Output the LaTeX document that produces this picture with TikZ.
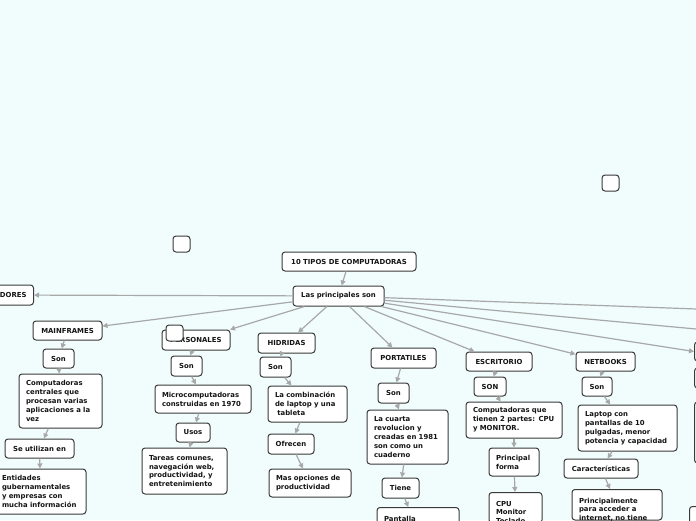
\documentclass[tikz,border=0pt]{standalone}
\usepackage{fontspec}
\setsansfont{DejaVu Sans}
\usetikzlibrary{arrows.meta}
\definecolor{bg}{RGB}{240,253,252}
\definecolor{ln}{RGB}{168,168,168}
\definecolor{bd}{RGB}{58,58,58}
\tikzset{
 bx/.style={draw=bd, line width=1pt, rounded corners=3pt, fill=white,
   font=\sffamily\bfseries\fontsize{6.9}{8.9}\selectfont,
   inner xsep=7pt, inner ysep=3pt, text=black!92},
 sb/.style={bx, align=center},
 mb/.style={bx, align=left},
 sq/.style={draw=bd, line width=1pt, rounded corners=3pt, fill=white,
   minimum width=17pt, minimum height=16pt, inner sep=0pt},
 conn/.style={draw=ln, line width=1.2pt, -{Triangle[length=5pt,width=5pt]}},
}
\newcommand{\topstrut}{\rule{0pt}{10.5pt}}
\begin{document}
\begin{tikzpicture}[x=1pt,y=-1pt]
\useasboundingbox (0,0) rectangle (696,520);
\fill[bg] (0,0) rectangle (696,520);
\clip (0,0) rectangle (696,520);

% top
\node[sb, minimum width=134pt, minimum height=19pt] (root) at (349,261.5) {10 TIPOS DE COMPUTADORAS};
\node[sb, minimum width=91pt, minimum height=20pt] (lps) at (338.5,296) {Las principales son};

% left cut node
\node[sb, anchor=east, minimum height=20pt] (dor) at (34,295) {SERVIDORES};

% MAINFRAMES
\node[sb, minimum width=69pt, minimum height=19pt] (mf) at (67.5,330.5) {MAINFRAMES};
\node[sb, minimum width=31pt, minimum height=19pt] (mson) at (58.5,358.5) {Son};
\node[mb, text width=69pt, minimum height=54pt] (mdesc) at (60.5,401) {Computadoras\\centrales que\\procesan varias\\aplicaciones a la\\vez};
\node[sb, minimum width=69pt, minimum height=19pt] (muse) at (39.5,448.5) {Se utilizan en};
\node[mb, text width=77pt, minimum height=45pt] (ment) at (40.5,491.5) {Entidades\\gubernamentales\\y empresas con\\mucha información};

% PERSONALES
\node[sb, minimum width=68pt, minimum height=20pt] (pers) at (196,340) {PERSONALES};
\node[sb, minimum width=31pt, minimum height=20pt] (pson) at (186.5,366) {Son};
\node[mb, text width=82pt, minimum height=28pt] (pdesc) at (203,399) {Microcomputadoras\\construidas en 1970};
\node[sb, minimum width=34pt, minimum height=19pt] (puse) at (193,432.5) {Usos};
\node[mb, text width=71pt, minimum height=46pt] (ptar) at (184.5,471) {Tareas comunes,\\navegación web,\\productividad, y\\entretenimiento};

% HIDRIDAS
\node[sb, minimum width=57pt, minimum height=20pt] (hid) at (286.5,343) {HIDRIDAS};
\node[sb, minimum width=31pt, minimum height=20pt] (hson) at (275.5,367) {Son};
\node[mb, text width=65pt, minimum height=36pt] (hdesc) at (307.5,404) {La combinación\\de laptop y una\\\ tableta};
\node[sb, minimum width=46pt, minimum height=20pt] (hofr) at (291,444) {Ofrecen};
\node[mb, text width=68pt, minimum height=28pt] (hmas) at (310,483) {Mas opciones de\\productividad};

% PORTATILES
\node[sb, minimum width=65pt, minimum height=20pt] (port) at (403.5,358) {PORTATILES};
\node[sb, minimum width=31pt, minimum height=20pt] (poson) at (393.5,393) {Son};
\node[mb, text width=67pt, minimum height=54pt] (podesc) at (407.5,437) {La cuarta\\revolucion y\\creadas en 1981\\son como un\\cuaderno};
\node[sb, minimum width=37pt, minimum height=20pt] (potie) at (400.5,488) {Tiene};
\node[mb, text width=68pt, text depth=30pt, anchor=north] (popan) at (418,507) {\topstrut Pantalla};

% ESCRITORIO
\node[sb, minimum width=66pt, minimum height=19pt] (esc) at (499,361.5) {ESCRITORIO};
\node[sb, minimum width=32pt, minimum height=19pt] (eson) at (490,386.5) {SON};
\node[mb, text width=82pt, minimum height=36pt] (edesc) at (514,420) {Computadoras que\\tienen 2 partes: CPU\\y MONITOR.};
\node[mb, text width=36pt, minimum height=28pt] (efor) at (514,462) {Principal\\forma};
\node[mb, text width=39pt, text depth=14pt, anchor=north] (ecpu) at (515.5,492) {\topstrut CPU\\Monitor\\Teclado};

% NETBOOKS
\node[sb, minimum width=59pt, minimum height=19pt] (net) at (605.5,361.5) {NETBOOKS};
\node[sb, minimum width=30pt, minimum height=19pt] (nson) at (597,386.5) {Son};
\node[mb, text width=85pt, minimum height=46pt] (ndesc) at (627.5,428) {Laptop con\\pantallas de 10\\pulgadas, menor\\potencia y capacidad};
\node[sb, minimum width=74pt, minimum height=19pt] (ncar) at (601,468.5) {Características};
\node[mb, text width=76pt, text depth=14pt, anchor=north] (npri) at (617,489) {\topstrut Principalmente\\para acceder a\\internet, no tiene};

% right cut nodes
\node[bx, minimum width=80pt, minimum height=19pt, anchor=west] (r1) at (694,351.5) {};
\node[bx, minimum width=80pt, minimum height=20pt, anchor=west] (r2) at (694,378) {};
\node[bx, minimum width=80pt, minimum height=61pt, anchor=west] (r3) at (694,432.5) {};
\node[bx, minimum width=80pt, minimum height=40pt, anchor=north west] (r4) at (689,506) {};
\coordinate (off1) at (760,311.3);
\coordinate (off2) at (760,334.9);

% blank squares
\node[sq] (sqa) at (181.5,244) {};
\node[sq] (sqb) at (610.5,183) {};

% connectors
\draw[conn] (root) -- (lps);
\draw[conn] (lps) -- (dor);
\draw[conn] (lps) -- (mf);
\draw[conn] (lps) -- (pers);
\draw[conn] (lps) -- (hid);
\draw[conn] (lps) -- (port);
\draw[conn] (lps) -- (esc);
\draw[conn] (lps) -- (net);
\draw[conn] (lps) -- (r1.west);
\draw[conn] (lps) -- (off1);
\draw[conn] (lps) -- (off2);

\draw[conn] (mf) -- (mson);
\draw[conn] (mson) -- (mdesc);
\draw[conn] (mdesc) -- (muse);
\draw[conn] (muse) -- (ment);

\draw[conn] (pers) -- (pson);
\draw[conn] (pson) -- (pdesc);
\draw[conn] (pdesc) -- (puse);
\draw[conn] (puse) -- (ptar);

\draw[conn] (hid) -- (hson);
\draw[conn] (hson) -- (hdesc);
\draw[conn] (hdesc) -- (hofr);
\draw[conn] (hofr) -- (hmas);

\draw[conn] (port) -- (poson);
\draw[conn] (poson) -- (podesc);
\draw[conn] (podesc) -- (potie);
\draw[conn] (potie) -- (popan);

\draw[conn] (esc) -- (eson);
\draw[conn] (eson) -- (edesc);
\draw[conn] (edesc) -- (efor);
\draw[conn] (efor) -- (ecpu);

\draw[conn] (net) -- (nson);
\draw[conn] (nson) -- (ndesc);
\draw[conn] (ndesc) -- (ncar);
\draw[conn] (ncar) -- (npri);

\draw[conn] (r1) -- (r2);
\draw[conn] (r2) -- (r3);

% square over PERSONALES
\node[sq] (sqc) at (174.5,333) {};
\end{tikzpicture}
\end{document}
